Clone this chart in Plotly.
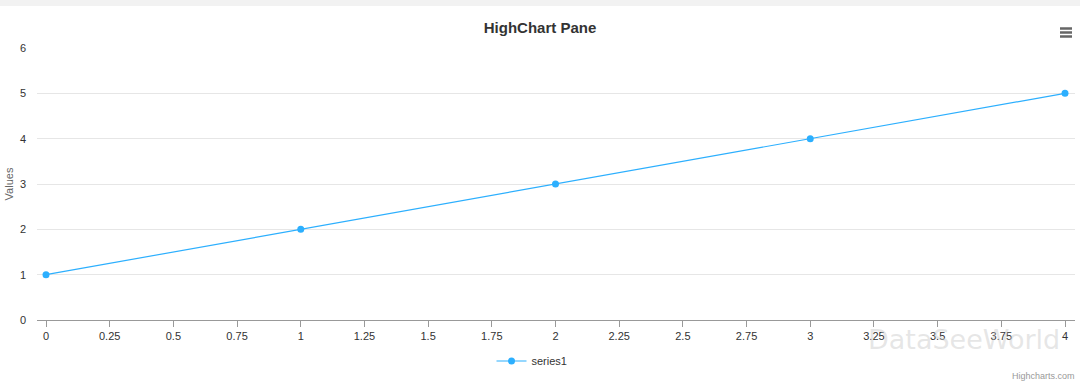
import plotly.graph_objects as go

x_vals = [0, 1, 2, 3, 4]
y_vals = [1, 2, 3, 4, 5]
series_name = "series1"
x_ticks = [0, 0.25, 0.5, 0.75, 1, 1.25, 1.5, 1.75, 2, 2.25, 2.5, 2.75, 3, 3.25, 3.5, 3.75, 4]
x_ticktext = ["0", "0.25", "0.5", "0.75", "1", "1.25", "1.5", "1.75", "2", "2.25", "2.5", "2.75", "3", "3.25", "3.5", "3.75", "4"]

W, H = 1080, 383
L, R, T, B = 37, 5, 48, 63
ph = H - T - B
pw = W - L - R

def py(px):
    return 1 - (px - T) / ph

def pxx(px):
    return (px - L) / pw

FONT = "Liberation Sans, Arial, Helvetica, sans-serif"
COLOR = "#2caffe"

fig = go.Figure()
fig.add_trace(go.Scatter(
    x=x_vals, y=y_vals, name=series_name, mode="lines+markers",
    line=dict(color=COLOR, width=1.2),
    marker=dict(color=COLOR, size=7),
    showlegend=True,
))

shapes = [
    dict(type="rect", xref="paper", yref="paper", x0=-L / pw, x1=1 + R / pw,
         y0=py(6), y1=py(0), fillcolor="#f2f2f2", line=dict(width=0), layer="below"),
]
for yy in (28.5, 32.5, 36.5):
    shapes.append(dict(type="line", xref="paper", yref="paper",
                       x0=pxx(1060), x1=pxx(1072), y0=py(yy), y1=py(yy),
                       line=dict(color="#666666", width=2.5)))

fig.update_layout(
    width=W, height=H,
    margin=dict(l=L, r=R, t=T, b=B, autoexpand=False),
    paper_bgcolor="white", plot_bgcolor="white",
    font=dict(family=FONT, color="#333333", size=11),
    title=dict(text="<b>HighChart Pane</b>", x=0.5, xanchor="center",
               y=1 - 28 / H, yanchor="middle", yref="container",
               font=dict(size=15, color="#333333", family=FONT)),
    xaxis=dict(range=[-9 / 254.75, 4 + 10 / 254.75], tickvals=x_ticks, ticktext=x_ticktext,
               showgrid=False, zeroline=False, showline=True, linecolor="#999999", linewidth=1,
               ticks="outside", ticklen=6, tickcolor="#999999", tickwidth=1,
               tickfont=dict(size=11, color="#333333"), fixedrange=True, automargin=False),
    yaxis=dict(range=[0, 6], tickvals=[0, 1, 2, 3, 4, 5, 6], showgrid=True, gridcolor="#e6e6e6",
               gridwidth=1, zeroline=False, showline=False, ticks="", ticklabelstandoff=10,
               tickfont=dict(size=11, color="#333333"),
               title=dict(text="Values", font=dict(size=11, color="#666666"), standoff=4),
               fixedrange=True, automargin=False),
    legend=dict(orientation="h", x=0.5 - 24 / pw, xanchor="center", y=py(361), yanchor="middle",
                font=dict(size=11, color="#333333"), bgcolor="rgba(0,0,0,0)", itemwidth=30),
    shapes=shapes,
    annotations=[
        dict(text="Highcharts.com", xref="paper", yref="paper", x=1 + 2 / pw, y=py(376),
             xanchor="right", yanchor="middle", showarrow=False,
             font=dict(size=9, color="#999999")),
        dict(text="DataSeeWorld", xref="paper", yref="paper", x=pxx(866), y=py(339),
             xanchor="left", yanchor="middle", showarrow=False,
             font=dict(size=27, color="rgba(200,200,200,0.45)", family="DejaVu Sans")),
    ],
)

fig.write_html("out.html", config={"displayModeBar": False},
               post_script="document.body.style.margin='0';")
